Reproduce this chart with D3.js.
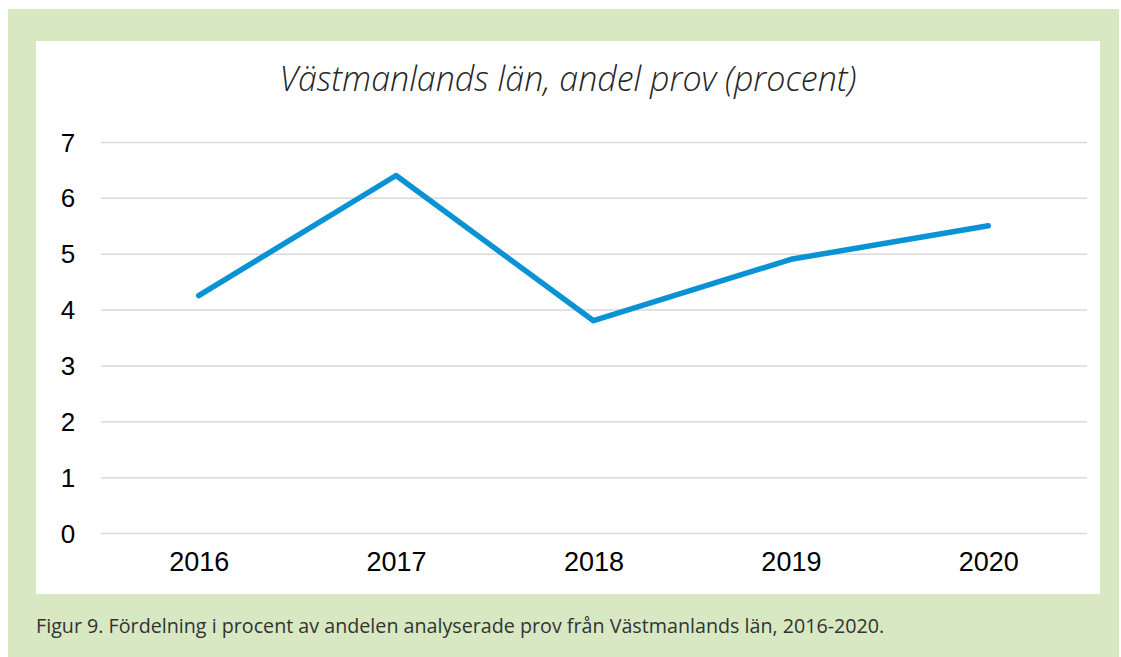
<!DOCTYPE html>
<html>
<head>
<meta charset="utf-8">
<script src="https://cdn.jsdelivr.net/npm/d3@7"></script>
<style>
  body { margin: 0; background: #fff; }
  .grid line { stroke: #d9d9d9; stroke-width: 1.5; }
  .grid path { display: none; }
  .axis path, .axis line { display: none; }
  .axis text { font-family: "Liberation Sans", Arial, sans-serif; font-size: 26px; fill: #000; }
  .x.axis text { font-size: 27px; }
</style>
</head>
<body>
<div class="demo"></div>
<script>
const w = 1121, h = 657;

const years = ['2016', '2017', '2018', '2019', '2020'];
const andel = [4.25, 6.4, 3.8, 4.9, 5.5];
const yTicks = [0, 1, 2, 3, 4, 5, 6, 7];

const chartTitle = 'Västmanlands län, andel prov (procent)';
const caption = 'Figur 9. Fördelning i procent av andelen analyserade prov från Västmanlands län, 2016-2020.';

let svg = d3.select('.demo').append('svg').attr('width', w).attr('height', h);

// green frame + white panel
svg.append('rect').attr('x', 8).attr('y', 9).attr('width', 1111).attr('height', 648).attr('fill', '#d7e8c3');
svg.append('rect').attr('x', 36).attr('y', 41).attr('width', 1064).attr('height', 553).attr('fill', '#fff');

let xScale = d3.scalePoint().domain(years).range([100, 1087]).padding(0.5);
let yScale = d3.scaleLinear().domain([0, 7]).range([533, 142]);

let yGrid = d3.axisRight(yScale)
    .tickValues(yTicks)
    .tickFormat('')
    .tickSize(1087 - 101);

svg.append('g').attr('class', 'grid')
   .attr('transform', 'translate(101,0)')
   .call(yGrid);

let yAxis = d3.axisLeft(yScale).tickValues(yTicks).tickFormat(d3.format('d')).tickSize(0).tickPadding(0);
svg.append('g').attr('class', 'y axis')
   .attr('transform', 'translate(68,0)')
   .call(yAxis)
   .selectAll('text').attr('text-anchor', 'middle').attr('dy', '0.35em');

let xAxis = d3.axisBottom(xScale).tickSize(0).tickPadding(0);
svg.append('g').attr('class', 'x axis')
   .attr('transform', 'translate(0,571)')
   .call(xAxis)
   .selectAll('text').attr('dy', 0).attr('y', 0);

let line = d3.line()
    .x(function(d, i){ return xScale(years[i]) })
    .y(function(d){ return yScale(d) });

svg.append('path').datum(andel)
   .attr('d', line)
   .attr('fill', 'none')
   .attr('stroke', '#0a93d4')
   .attr('stroke-width', 5.5)
   .attr('stroke-linecap', 'round')
   .attr('stroke-linejoin', 'round');

svg.append('text')
   .text(chartTitle)
   .attr('x', 568).attr('y', 91)
   .attr('text-anchor', 'middle')
   .attr('font-family', '"Open Sans", sans-serif')
   .attr('font-style', 'italic')
   .attr('font-weight', 300)
   .attr('font-size', '34px')
   .attr('fill', '#262626');

svg.append('text')
   .text(caption)
   .attr('x', 36).attr('y', 633)
   .attr('font-family', '"Open Sans", sans-serif')
   .attr('font-weight', 400)
   .attr('font-size', '19.7px')
   .attr('fill', '#333');
</script>
</body>
</html>
